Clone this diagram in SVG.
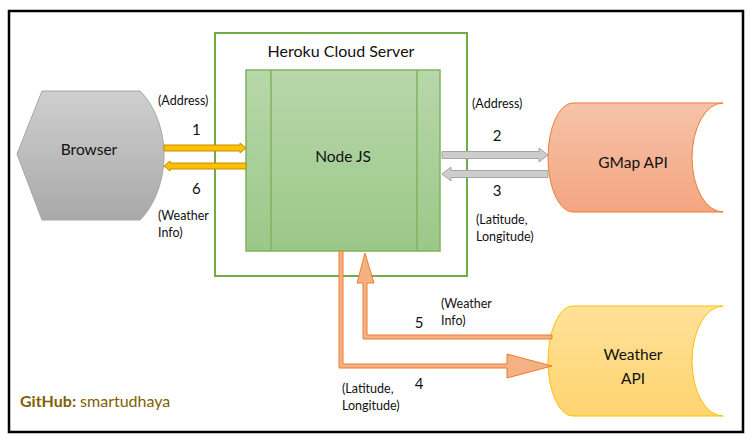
<svg xmlns="http://www.w3.org/2000/svg" width="753" height="442" viewBox="0 0 753 442">
<defs>
<linearGradient id="gGray" x1="0" y1="0" x2="0" y2="1"><stop offset="0" stop-color="#CFCFCF"/><stop offset="1" stop-color="#A9A9A9"/></linearGradient>
<linearGradient id="gGreen" x1="0" y1="0" x2="0" y2="1"><stop offset="0" stop-color="#B8D7AA"/><stop offset="1" stop-color="#9BC888"/></linearGradient>
<linearGradient id="gOrange" x1="0" y1="0" x2="0" y2="1"><stop offset="0" stop-color="#F6C3A8"/><stop offset="1" stop-color="#F4A582"/></linearGradient>
<linearGradient id="gYellow" x1="0" y1="0" x2="0" y2="1"><stop offset="0" stop-color="#FFE199"/><stop offset="1" stop-color="#FFD470"/></linearGradient>
</defs>
<style>
text{font-family:Lato,"Liberation Sans",sans-serif;fill:#111}
.sm{font-size:12.5px}
.num{font-size:15px}
.lbl{font-size:15.5px}
.yarr{fill:#FFC000;stroke:#BF9000;stroke-width:1}
.garr{fill:#CDCDCD;stroke:#A5A5A5;stroke-width:1}
.oarr{fill:#F4B183;stroke:#ED7D31;stroke-width:1}
</style>
<rect x="0" y="0" width="753" height="442" fill="#fff"/>
<rect x="9" y="11" width="734" height="421" fill="none" stroke="#000" stroke-width="2.5"/>

<g id="heroku">
<rect x="215" y="33" width="252" height="243" fill="#fff" stroke="#70AD47" stroke-width="2"/>
<text x="341" y="57" text-anchor="middle" style="font-size:16px">Heroku Cloud Server</text>
</g>
<g id="nodejs">
<rect x="246" y="70" width="194" height="181" fill="url(#gGreen)" stroke="#7FB35E" stroke-width="1.5"/>
<line x1="271" y1="70" x2="271" y2="251" stroke="#7FB35E" stroke-width="1.5"/>
<line x1="417" y1="70" x2="417" y2="251" stroke="#7FB35E" stroke-width="1.5"/>
<text x="343" y="162" text-anchor="middle" class="lbl">Node JS</text>
</g>
<g id="browser">
<path d="M17,154 L42,91 L140,91 C155,106 164,130 164,155 C164,180 155,205 140,220 L42,220 Z" fill="url(#gGray)" stroke="#A6A6A6" stroke-width="1"/>
<text x="89" y="155" text-anchor="middle" class="lbl">Browser</text>
</g>
<g id="gmap">
<path d="M573,103 L723,103 A31,54.5 0 0 0 723,212 L573,212 A25,54.5 0 0 1 573,103 Z" fill="url(#gOrange)" stroke="#ED7D31" stroke-width="1"/>
<text x="633" y="168" text-anchor="middle" class="lbl">GMap API</text>
</g>
<g id="weather">
<path d="M573,306 L723,306 A31,55 0 0 0 723,416 L573,416 A25,55 0 0 1 573,306 Z" fill="url(#gYellow)" stroke="#FFC000" stroke-width="1"/>
<text x="633" y="360" text-anchor="middle" class="lbl">Weather</text>
<text x="633" y="384" text-anchor="middle" class="lbl">API</text>
</g>

<g id="connectors">
<polygon class="yarr" points="164,145 240,145 240,143 246,148 240,153 240,151 164,151"/>
<polygon class="yarr" points="246,163 170,163 170,161 164,166 170,171 170,169 246,169"/>
<polygon class="garr" points="442,151.5 539,151.5 539,148 548,155 539,162 539,158.5 442,158.5"/>
<polygon class="garr" points="548,170.5 451,170.5 451,167 442,174 451,181 451,177.5 548,177.5"/>
<polygon class="oarr" points="339,251 339,368 507,368 507,378 552,366 507,354 507,364 343,364 343,251"/>
<polygon class="oarr" points="552,335 367,335 367,283 374,283 365,253 357,283 363,283 363,339 552,339"/>
</g>

<g id="labels">
<text x="158" y="105" class="sm">(Address)</text>
<text x="192" y="135" class="num">1</text>
<text x="192" y="194" class="num">6</text>
<text x="158" y="220" class="sm">(Weather</text>
<text x="158" y="237" class="sm">Info)</text>
<text x="472" y="108" class="sm">(Address)</text>
<text x="497" y="141" text-anchor="middle" class="num">2</text>
<text x="497" y="196" text-anchor="middle" class="num">3</text>
<text x="476" y="224" class="sm">(Latitude,</text>
<text x="476" y="241" class="sm">Longitude)</text>
<text x="441" y="308" class="sm">(Weather</text>
<text x="441" y="325" class="sm">Info)</text>
<text x="419" y="328" text-anchor="middle" class="num">5</text>
<text x="419" y="389" text-anchor="middle" class="num">4</text>
<text x="342" y="393" class="sm">(Latitude,</text>
<text x="342" y="410" class="sm">Longitude)</text>
<text x="20" y="407" style="font-size:16px;fill:#7F6000"><tspan font-weight="bold" style="fill:#7F6000">GitHub:</tspan> smartudhaya</text>
</g>
</svg>
